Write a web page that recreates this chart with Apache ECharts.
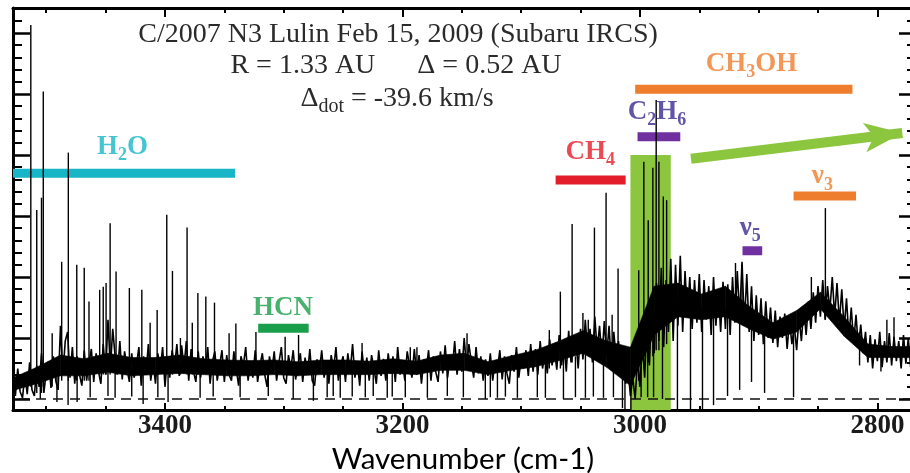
<!DOCTYPE html>
<html><head><meta charset="utf-8">
<script src="https://cdn.jsdelivr.net/npm/echarts@6/dist/echarts.min.js"></script>
<style>html,body{margin:0;padding:0;background:#fff}#c{width:910px;height:473px}</style>
</head><body><div id="c"></div>
<script>
// ---- sampling grid of the spectrum (wavenumber, cm-1) ----
const wnStart = 3528, wnStep = 2;
// ---- spectrum flux (relative units), one value per sample ----
const signal = [
0.35,0.05,0.50,0.12,0.02,0.40,0.08,0.60,0.15,0.05,
0.55,0.20,0.75,0.10,0.45,0.62,0.18,0.70,0.30,0.15,
1.20,0.40,0.95,1.10,0.35,0.85,0.25,0.70,0.40,0.22,
0.80,0.30,0.60,0.82,0.28,0.75,0.45,0.25,0.90,0.40,
1.30,0.50,1.15,0.70,0.40,0.95,0.32,0.78,0.50,0.28,
0.75,0.35,0.55,0.85,0.22,0.70,0.40,0.90,0.30,0.62,
0.25,0.75,0.45,0.85,0.20,0.68,0.35,0.80,0.50,0.90,
0.38,0.88,0.52,0.95,0.30,0.82,0.45,0.28,0.78,0.35,
0.70,0.45,0.85,0.25,0.62,0.78,0.30,0.55,0.80,0.28,
0.72,0.40,0.30,0.78,0.50,0.22,0.70,0.55,0.85,0.30,
0.62,0.35,0.80,0.28,0.55,0.75,0.40,0.20,0.70,0.45,
0.78,0.30,0.60,0.85,0.35,0.25,0.72,0.50,0.80,0.32,
0.55,0.75,0.28,0.68,0.40,0.82,0.30,0.22,0.65,0.45,
0.80,0.35,0.60,0.25,0.72,0.48,0.85,0.30,0.55,0.70,
0.28,0.75,0.45,0.90,0.35,0.62,0.22,0.78,0.40,0.68,
0.30,0.72,0.50,0.25,0.80,0.38,0.66,0.30,0.75,0.42,
0.70,0.28,0.85,0.40,0.62,0.30,0.78,0.55,0.35,0.82,
0.40,0.72,0.25,0.65,0.48,0.80,0.30,0.70,0.45,0.28,
0.78,0.42,0.88,0.35,0.70,0.50,0.95,0.40,0.82,0.45,
1.00,0.50,0.90,0.60,0.35,0.85,0.42,0.70,0.30,0.65,
0.38,0.75,0.30,0.62,0.48,0.80,0.32,0.70,0.42,0.25,
0.72,0.45,0.85,0.35,0.68,0.50,0.80,0.38,0.90,0.45,
0.82,0.40,0.95,0.50,0.75,0.42,0.98,0.55,0.80,0.48,
1.05,0.55,0.90,0.45,1.12,0.60,0.85,1.00,0.50,1.15,
0.65,1.30,0.75,1.15,0.60,1.35,0.80,1.20,0.65,1.28,
0.70,1.20,0.55,1.10,0.65,0.95,0.40,0.75,0.25,0.50,
0.05,0.35,0.00,0.65,0.20,0.90,0.35,1.30,0.55,1.55,
0.75,1.90,0.95,2.15,0.85,1.95,1.10,2.30,0.95,2.20,
1.20,2.35,1.10,2.10,1.35,2.00,1.15,1.95,1.25,2.05,
1.10,1.95,1.30,1.85,1.05,2.00,1.20,1.80,1.10,1.92,
1.15,1.88,1.05,2.00,1.25,2.10,1.35,2.25,1.20,2.05,
1.10,1.85,0.95,1.70,1.05,1.65,0.90,1.60,1.00,1.50,
0.92,1.45,0.85,1.35,1.00,1.40,0.82,1.30,0.90,1.20,
0.80,1.35,0.95,1.50,1.05,1.60,1.15,1.75,1.25,1.85,
1.35,1.95,1.30,1.85,1.45,2.00,1.35,1.90,1.25,1.80,
1.15,1.65,1.00,1.50,0.92,1.38,0.85,1.22,0.75,1.10,
0.60,1.05,0.50,0.98,0.62,1.10,0.52,0.95,0.60,1.08,
0.55,1.02,0.62,0.95,0.50,1.05,0.58,1.00,0.52,0.98
];
// ---- dense noise core of the spectrum, every 20 cm-1 from 3528: low / high edge ----
const coreStep = 20;
const coreLow  = [0.14,0.25,0.38,0.38,0.44,0.38,0.40,0.42,0.40,0.38,0.38,0.40,0.38,0.40,0.40,0.40,0.42,0.40,0.47,0.47,
                  0.40,0.47,0.53,0.63,0.75,0.52,0.22,1.05,1.35,1.30,1.35,1.15,0.98,1.10,1.48,1.03,0.68,0.68,0.68];
const coreHigh = [0.35,0.52,0.72,0.66,0.75,0.68,0.68,0.72,0.66,0.64,0.63,0.64,0.61,0.64,0.64,0.62,0.66,0.62,0.72,0.75,
                  0.61,0.71,0.80,0.95,1.12,0.95,0.85,1.85,1.90,1.72,1.85,1.52,1.25,1.45,1.75,1.35,0.90,0.86,0.86];
// ---- narrow emission lines: [wavenumber, base, peak] ----
const emissionLines = [
[3513,0.2,6.13],[3508,0.1,3.10],[3504,0.1,3.30],[3502.5,0.2,5.04],[3495,0.2,1.08],
[3487,0.3,2.25],[3481.4,0.3,4.04],[3474.3,0.3,2.20],[3468,0.3,2.15],[3464,0.3,1.60],
[3455,0.4,1.79],[3452,0.4,1.84],[3449.6,0.4,1.90],[3446.2,0.4,2.88],[3441.2,0.4,2.09],
[3430,0.4,1.82],[3419.5,0.4,1.79],[3412.5,0.4,1.25],[3406.6,0.4,1.46],[3398.5,0.4,3.02],
[3393.7,0.4,2.10],[3387,0.4,1.00],[3381.4,0.4,2.81],[3377,0.4,1.25],[3372.3,0.4,1.74],
[3365.6,0.4,1.68],[3358.3,0.4,1.58],[3346,0.4,1.08],[3340.3,0.4,1.24],[3323.4,0.4,1.10],
[3298.8,0.4,1.02],[3287.5,0.4,1.05],[3234,0.4,0.92],[3193.4,0.4,0.85],[3187.8,0.4,0.85],
[3145.6,0.5,1.08],[3076.3,0.5,1.13],[3067,0.5,1.76],[3057.1,0.6,2.87],[3048,0.7,1.41],
[3043.5,0.7,1.30],[3038.3,0.7,2.81],[3028.5,0.7,3.38],[3023.4,0.7,1.38],[3018.4,0.6,2.14],
[3001,0.3,2.11],[2996.7,0.5,3.89],[2993,0.6,2.93],[2989.1,0.7,3.79],[2986.3,0.8,4.90],
[2984,0.8,3.89],[2980.3,0.9,3.32],[2977.5,0.9,3.26],[2919.5,1.4,2.23],[2914,1.4,2.20],
[2855.6,1.2,2.00],[2843.8,1.3,3.13],[2792,0.8,1.30],[2786,0.8,1.34]
];
// ---- telluric absorption residuals: [wavenumber, trough, base] ----
const absorptionLines = [
[3505,0.00,0.4],[3491,-0.05,0.4],[3481.6,-0.10,0.4],[3474,-0.05,0.4],[3463,0.03,0.4],
[3448,0.05,0.5],[3442,0.02,0.5],[3428,0.04,0.5],[3418.4,-0.08,0.5],[3406,0.03,0.5],
[3397.4,-0.05,0.5],[3370.4,0.02,0.5],[3359.4,0.04,0.5],[3336.7,0.03,0.5],[3313,0.05,0.5],
[3292,0.00,0.5],[3275,-0.03,0.5],[3263.4,0.03,0.5],[3258.3,0.05,0.5],[3252.4,0.02,0.5],
[3242.3,0.04,0.5],[3231.3,0.03,0.5],[3224.6,0.05,0.5],[3212.8,0.02,0.5],[3208.6,0.04,0.5],
[3197.6,0.03,0.5],[3179,0.02,0.5],[3162.2,0.05,0.5],[3148.7,0.03,0.5],[3130.2,0.00,0.5],
[3126,0.03,0.5],[3120,0.02,0.5],[3113.3,0.04,0.5],[3103.2,0.02,0.5],[3086.4,0.03,0.6],
[3079.6,0.02,0.6],[3064.4,0.00,0.7],[3054.3,0.03,0.7],[3045.9,0.02,0.8],[3039.2,0.04,0.8],
[3030.7,0.02,0.8],[3022.3,0.03,0.8],[3014.7,-0.15,0.6],[3012.6,-0.18,0.4],[3007.6,-0.18,0.3],
[2999,0.03,0.8],[2993.5,0.03,1.0],[2988.5,0.03,1.2],[2981,0.00,1.4],[2968.4,-0.18,1.6],
[2957.4,-0.18,1.6],[2947.3,-0.18,1.5],[2938,-0.10,1.5],[2926.2,0.05,1.5],[2916,0.15,1.6],
[2906,0.28,1.4],[2895,0.10,1.3],[2870.6,0.03,1.1],[2815,0.55,1.1],[2797,0.45,0.8]
];
// ---- band annotations ----
const bandNames  = ['H2O','HCN','CH4','C2H6','CH3OH','nu3','nu5'];
const bandLabels = ['{m|H}{s|2}{m|O}','{m|HCN}','{m|CH}{s|4}','{m|C}{s|2}{m|H}{s|6}','{m|CH}{s|3}{m|OH}','{m|ν}{s|3}','{m|ν}{s|5}'];
const bandFrom   = [3528, 3321.5, 3071, 3002, 3004, 2870.6, 2913.6];
const bandTo     = [3341, 3279, 3012, 2966, 2821, 2818, 2897];
const bandLevel  = [3.70, 1.16, 3.59, 4.30, 5.08, 3.33, 2.43];
const labelWn    = [3435.7, 3300.5, 3041.8, 2985.7, 2906.1, 2846.3, 2907];
const labelLevel = [4.13, 1.48, 4.04, 4.70, 5.49, 3.64, 2.79];
// ---- C2H6 highlight window and arrow ----
const highlightWindow = [3008, 2974, 4.0];
const arrowFrom = [2957, 3.94];
const arrowTo   = [2779, 4.36];
// ---- axis ticks ----
const xMajorTicks = [3400, 3200, 3000, 2800];
const xMinorTicks = [3500, 3450, 3350, 3300, 3250, 3150, 3100, 3050, 2950, 2900, 2850];
const yMajorTicks = [0, 1, 2, 3, 4, 5, 6];
const yMinorTicks = [0.2,0.4,0.6,0.8,1.2,1.4,1.6,1.8,2.2,2.4,2.6,2.8,3.2,3.4,3.6,3.8,4.2,4.4,4.6,4.8,5.2,5.4,5.6,5.8,6.2,6.4];
const titleLines = ['C/2007 N3 Lulin Feb 15, 2009 (Subaru IRCS)', 'R = 1.33 AU      Δ = 0.52 AU', '{a|Δ}{b|dot}{a| = -39.6 km/s}'];

const X_MIN = 2770, X_MAX = 3528, Y_MIN = -0.18, Y_MAX = 6.41;
const SERIF = '"Liberation Serif", "DejaVu Serif", serif';
const GREEN = '#8cc63f';
const bandColors  = ['#17b5c5', '#1a9e4a', '#e31d2a', '#7030a0', '#ef7d2e', '#ef7d2e', '#7030a0'];
const labelColors = ['#17b5c5', '#1a9e4a', '#e31d2a', '#3b2a90', '#ef7d2e', '#ef7d2e', '#3b2a90'];

function mkX(pos, ticks, len, showLine, showLabel) {
  return {
    type: 'value', position: pos, min: X_MIN, max: X_MAX, inverse: true, gridIndex: 0,
    axisLine: {show: showLine, onZero: false, lineStyle: {color: '#000', width: 3}},
    axisTick: {show: true, inside: true, length: len, customValues: ticks, lineStyle: {color: '#000', width: 2}},
    axisLabel: {show: showLabel, customValues: xMajorTicks, margin: 3, fontFamily: SERIF, fontWeight: 'bold', fontSize: 27, color: '#1a1a1a', formatter: v => String(v)},
    splitLine: {show: false},
    name: showLabel ? 'Wavenumber (cm-1)' : '', nameLocation: 'middle', nameGap: 23,
    nameTextStyle: {fontFamily: 'Lato', fontSize: 29.5, color: '#000'}
  };
}
function mkY(pos, ticks, len, width, showLine) {
  return {
    type: 'value', position: pos, min: Y_MIN, max: Y_MAX, gridIndex: 0,
    axisLine: {show: showLine, onZero: false, lineStyle: {color: '#000', width: 3}},
    axisTick: {show: true, inside: true, length: len, customValues: ticks, lineStyle: {color: '#000', width: width}},
    axisLabel: {show: false}, splitLine: {show: false}
  };
}
function richFor(color) {
  return {
    m: {fontFamily: SERIF, fontWeight: 'bold', fontSize: 27, lineHeight: 28, verticalAlign: 'top', color: color},
    s: {fontFamily: SERIF, fontWeight: 'bold', fontSize: 18, lineHeight: 18, padding: [13, 0, 0, 0], verticalAlign: 'top', color: color}
  };
}

const chart = echarts.init(document.getElementById('c'), null, {renderer: 'canvas'});
const series = [];
series.push({
  type: 'custom', name: 'highlight', z: 1, silent: true, clip: true,
  data: [highlightWindow],
  renderItem: (p, api) => {
    const a = api.coord([api.value(0), api.value(2)]);
    const b = api.coord([api.value(1), Y_MIN]);
    return {type: 'rect', shape: {x: Math.min(a[0], b[0]), y: a[1], width: Math.abs(b[0] - a[0]), height: b[1] - a[1]}, style: {fill: GREEN}};
  }
});
bandNames.forEach((n, i) => {
  series.push({type: 'line', name: n, z: 2, silent: true, symbol: 'none',
    data: [[bandFrom[i], bandLevel[i]], [bandTo[i], bandLevel[i]]],
    lineStyle: {color: bandColors[i], width: 9, cap: 'butt'}});
});
series.push({type: 'line', name: 'arrow', z: 2, silent: true, symbol: 'none',
  data: [arrowFrom, arrowTo], lineStyle: {width: 0, opacity: 0},
  markLine: {silent: true, symbol: ['none', 'arrow'], symbolSize: [22, 38], label: {show: false},
    lineStyle: {color: GREEN, width: 10, type: 'solid'}, emphasis: {disabled: true},
    data: [[{coord: arrowFrom}, {coord: arrowTo}]]}
});
// dense noise core: one filled quad per 20 cm-1 segment between the low and high edges
const coreSegs = coreLow.slice(0, -1).map((v, i) => [wnStart - i * coreStep, wnStart - (i + 1) * coreStep, v, coreHigh[i], coreLow[i + 1], coreHigh[i + 1]]);
series.push({type: 'custom', name: 'core', z: 3, silent: true, clip: true,
  data: coreSegs, encode: {x: [0, 1], y: [2, 3, 4, 5]},
  renderItem: (p, api) => {
    const pts = [api.coord([api.value(0), api.value(3)]), api.coord([api.value(1), api.value(5)]),
                 api.coord([api.value(1), api.value(4)]), api.coord([api.value(0), api.value(2)])];
    return {type: 'polygon', shape: {points: pts}, style: {fill: '#000', stroke: '#000', lineWidth: 0.6}};
  }
});
series.push({type: 'line', name: 'spectrum', z: 3, silent: true, symbol: 'none', clip: true,
  data: signal.map((v, i) => [wnStart - i * wnStep, v]),
  lineStyle: {color: '#000', width: 1.6, join: 'bevel'},
  markLine: {silent: true, symbol: ['none', 'none'], label: {show: false},
    lineStyle: {color: '#111', width: 1.5, type: [10, 7]}, data: [{yAxis: 0}]}
});
series.push({type: 'custom', name: 'lines', z: 3, silent: true, clip: true,
  data: emissionLines.concat(absorptionLines),
  encode: {x: 0, y: [1, 2]},
  renderItem: (p, api) => {
    const a = api.coord([api.value(0), api.value(1)]);
    const b = api.coord([api.value(0), api.value(2)]);
    return {type: 'line', shape: {x1: a[0], y1: a[1], x2: b[0], y2: b[1]}, style: {stroke: '#000', lineWidth: 1.4}};
  }
});
series.push({type: 'scatter', name: 'labels', z: 4, silent: true, symbolSize: 0,
  data: bandLabels.map((t, i) => ({value: [labelWn[i], labelLevel[i]],
    label: {show: true, position: 'inside', formatter: t, rich: richFor(labelColors[i])}}))
});

const TXT = '#2b2b2b';
chart.setOption({
  animation: false,
  backgroundColor: '#fff',
  grid: {left: 13, right: -3, top: 8, bottom: 63, containLabel: false, outerBoundsMode: 'none'},
  xAxis: [mkX('bottom', xMajorTicks, 7, true, true), mkX('bottom', xMinorTicks, 4, false, false),
          mkX('top', xMajorTicks, 9, true, false), mkX('top', xMinorTicks, 5, false, false)],
  yAxis: [mkY('left', yMajorTicks, 17, 2.5, true), mkY('left', yMinorTicks, 9, 2, false),
          mkY('right', yMajorTicks, 14, 2.5, true), mkY('right', yMinorTicks, 6, 2, false)],
  graphic: [
    {type: 'text', x: 398, y: 35, silent: true, style: {text: titleLines[0], font: '28px "Liberation Serif"', fill: TXT, align: 'center', verticalAlign: 'middle', textAlign: 'center', textVerticalAlign: 'middle'}},
    {type: 'text', x: 396, y: 66, silent: true, style: {text: titleLines[1], font: '28px "Liberation Serif"', fill: TXT, align: 'center', verticalAlign: 'middle', textAlign: 'center', textVerticalAlign: 'middle'}},
    {type: 'text', x: 397, y: 99, silent: true, style: {text: titleLines[2], font: '28px "Liberation Serif"', fill: TXT, align: 'center', verticalAlign: 'middle', textAlign: 'center', textVerticalAlign: 'middle',
      rich: {a: {fontFamily: SERIF, fontSize: 28, lineHeight: 28, verticalAlign: 'top', fill: TXT, color: TXT},
             b: {fontFamily: SERIF, fontSize: 20, lineHeight: 20, padding: [12, 0, 0, 0], verticalAlign: 'top', fill: TXT, color: TXT}}}}
  ],
  series: series
});
</script></body></html>
